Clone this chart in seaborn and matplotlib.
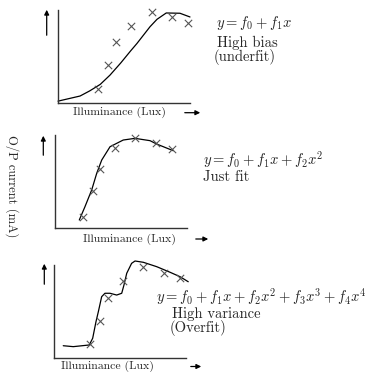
import matplotlib.pyplot as plt
import seaborn as sns

# three sketches: underfit, just fit, overfit (x and y on a 0-100 scale)
fit1_x = [30.3, 37.9, 43.9, 55.3, 71.2, 86.4, 98.5]
fit1_y = [15.1, 40.9, 65.6, 82.8, 97.8, 92.5, 86.0]
curve1_x = [0, 16.7, 24, 32, 39.4, 47.5, 55, 59.8, 69.7, 75, 82, 92.4, 100]
curve1_y = [2, 7.5, 13, 20, 30, 43, 56, 64, 82, 90, 96.8, 96.5, 92.5]

fit2_x = [20.9, 28.6, 34.1, 45.5, 60.6, 76.5, 88.4]
fit2_y = [12.2, 39.8, 63.4, 85.7, 97.1, 91.1, 84.6]
curve2_x = [18.4, 22.7, 27.8, 31.6, 35.4, 41.7, 51.7, 60.6, 72, 77, 89.6]
curve2_y = [8.6, 22.9, 40.9, 58.8, 73.1, 87.4, 94.6, 96.4, 93.9, 90.3, 83.1]

fit3_x = [27.3, 34.8, 41.1, 52.5, 67.7, 83.6, 95.5]
fit3_y = [15.1, 39.8, 64.8, 82.8, 97.5, 91.7, 85.7]
curve3_x = [7.0, 14.6, 26.7, 29.3, 31.8, 33.6, 36.1, 38.6, 42.4, 47.5, 51.3, 53,
            55.1, 58.8, 61.4, 67.7, 77.8, 87.9, 95.5, 101.7]
curve3_y = [13.2, 12.2, 14, 21.2, 39, 49.8, 65.9, 69.6, 69.6, 67.7, 69.6, 78.5,
            91.1, 101.8, 104.3, 102.9, 98.2, 92.2, 87.4, 82]

xlabel = 'Illuminance (Lux)'
ylabel = 'O/P current (mA)'
notes = [[r'$y = f_0 + f_1x$', 'High bias', '(underfit)'],
         [r'$y = f_0 + f_1x + f_2x^2$', 'Just fit'],
         [r'$y = f_0 + f_1x + f_2x^2 + f_3x^3 + f_4x^4$', 'High variance', '(Overfit)']]

sns.set_style('white')
plt.rcParams['font.family'] = 'serif'
plt.rcParams['font.serif'] = ['cmr10', 'DejaVu Serif']
plt.rcParams['mathtext.fontset'] = 'cm'
plt.rcParams['axes.unicode_minus'] = False

W, H = 370, 372
fig = plt.figure(figsize=(W / 100, H / 100), dpi=100)

def px(x, y):
    # pixel position (from top left) -> figure fraction
    return x / W, 1 - y / H

def panel(left, top, xs, ys, cx, cy):
    ax = fig.add_axes([left / W, 1 - (top + 93) / H, 132 / W, 93 / H])
    sns.lineplot(x=cx, y=cy, ax=ax, color='black', lw=0.9, sort=False, clip_on=False)
    sns.scatterplot(x=xs, y=ys, ax=ax, marker='x', s=28, color='#555555',
                    linewidth=0.8, clip_on=False, zorder=3)
    ax.set_xlim(0, 100)
    ax.set_ylim(0, 100)
    ax.set_xticks([])
    ax.set_yticks([])
    for s in ['top', 'right']:
        ax.spines[s].set_visible(False)
    for s in ['left', 'bottom']:
        ax.spines[s].set_color('#333333')
        ax.spines[s].set_linewidth(1.0)
    return ax

panel(58, 10, fit1_x, fit1_y, curve1_x, curve1_y)
panel(55, 135, fit2_x, fit2_y, curve2_x, curve2_y)
panel(54, 265, fit3_x, fit3_y, curve3_x, curve3_y)

def arrow(x0, y0, x1, y1):
    fig.add_artist(plt.matplotlib.patches.FancyArrowPatch(
        px(x0, y0), px(x1, y1), transform=fig.transFigure,
        arrowstyle='-|>', mutation_scale=7, lw=0.9, color='black'))

# up arrows and right arrows
arrow(46.7, 38, 46.7, 7)
arrow(43.3, 158, 43.3, 133)
arrow(44.3, 287, 44.3, 261)
arrow(182, 112.7, 203, 112.7)
arrow(193, 239, 211, 239)
arrow(188, 366.5, 204, 366.5)

fs = 8.5
for cx_, cy_ in [(119.7, 112.7), (129, 239), (107, 366.5)]:
    fig.text(*px(cx_, cy_), xlabel, ha='center', va='center', fontsize=fs)

fig.text(*px(12, 186), ylabel, rotation=270, ha='center', va='center', fontsize=9)

pos = [[(216, 22.7), (216.7, 42.7), (213.3, 57)],
       [(202.7, 159.3), (203, 177.3)],
       [(156, 296.5), (171.7, 314), (170, 328)]]
for lines, ps in zip(notes, pos):
    for t, (x, y) in zip(lines, ps):
        fig.text(*px(x, y), t, ha='left', va='center', fontsize=10.5)

fig.savefig('out.png', dpi=100)
